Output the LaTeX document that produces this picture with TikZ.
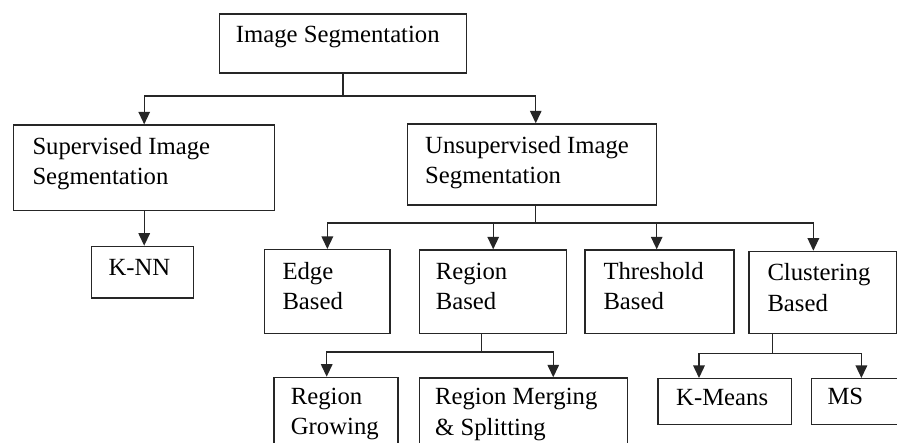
\documentclass[tikz,border=0pt]{standalone}
\usepackage{fontspec}
\setmainfont{Liberation Serif}
\usetikzlibrary{arrows.meta,calc}
\newcommand\boxtext[1]{\begin{tabular}[t]{@{}l@{}}#1\end{tabular}}
\begin{document}
\begin{tikzpicture}[x=1pt,y=-1pt,
  box/.style={draw=black!85, line width=1.4pt, rectangle, inner sep=0pt, anchor=north west},
  lbl/.style={anchor=base west, inner sep=0pt, font=\fontsize{24.7}{30.7}\selectfont},
  ln/.style={draw=black!85, line width=1.4pt},
  arr/.style={draw=black!85, line width=1.4pt, -{Triangle[width=11.5pt,length=12.5pt]}}]
\clip (0,0) rectangle (897,443);
\fill[white] (0,0) rectangle (897,443);
% boxes
\node[box, minimum width=246.7pt, minimum height=59pt] (seg) at (219,13.3) {};
\node[box, minimum width=261pt, minimum height=85.7pt] (sup) at (13,124.3) {};
\node[box, minimum width=249.3pt, minimum height=81pt] (unsup) at (406.7,123.3) {};
\node[box, minimum width=102pt, minimum height=51.6pt] (knn) at (90.7,245.7) {};
\node[box, minimum width=125.3pt, minimum height=83.7pt] (edge) at (264,249) {};
\node[box, minimum width=147pt, minimum height=83.4pt] (region) at (419,249.3) {};
\node[box, minimum width=149pt, minimum height=83.4pt] (thresh) at (584.3,249.3) {};
\node[box, minimum width=147.7pt, minimum height=82pt] (clust) at (748.3,250.7) {};
\node[box, minimum width=124pt, minimum height=80pt] (grow) at (273.3,376.7) {};
\node[box, minimum width=207.7pt, minimum height=80pt] (merge) at (419,377.3) {};
\node[box, minimum width=133.4pt, minimum height=46pt] (kmeans) at (657.3,378) {};
\node[box, minimum width=100pt, minimum height=46pt] (ms) at (810.7,378) {};
% labels
\node[lbl] (tseg) at (235.7,42.7) {Image Segmentation};
\node[lbl] (tsup) at (32.3,154.3) {\boxtext{Supervised Image\\Segmentation}};
\node[lbl] (tunsup) at (425,153.3) {\boxtext{Unsupervised Image\\Segmentation}};
\node[lbl] (tknn) at (108.3,275.7) {K-NN};
\node[lbl] (tedge) at (282.3,279.3) {\boxtext{Edge\\Based}};
\node[lbl] (tregion) at (435.7,279.3) {\boxtext{Region\\Based}};
\node[lbl] (tthresh) at (603.3,279.3) {\boxtext{Threshold\\Based}};
\node[lbl] (tclust) at (767.3,280.7) {\boxtext{Clustering\\Based}};
\node[lbl] (tgrow) at (290.7,404.3) {\boxtext{Region\\Growing}};
\node[lbl] (tmerge) at (435,405) {\boxtext{Region Merging\\\& Splitting}};
\node[lbl] (tkmeans) at (676,406) {K-Means};
\node[lbl] (tms) at (827.3,404.5) {MS};
% connectors
\draw[ln] (seg.south) -- ++(0,22.4) coordinate (j1);
\draw[arr] (j1) -| (sup.north);
\draw[arr] (j1) -| ([xshift=3.7pt]unsup.north);
\draw[arr] (sup.south) -- (sup.south |- knn.north);
\draw[ln] ([xshift=3.7pt]unsup.south) -- ++(0,17.4) coordinate (j2);
\draw[arr] (j2) -| (edge.north);
\draw[arr] (j2) -| (region.north);
\draw[arr] (j2) -| ([xshift=-2.8pt]thresh.north);
\draw[arr] (j2) -| ([xshift=-9.5pt]clust.north);
\draw[ln] ([xshift=-11.8pt]region.south) -- ++(0,18) coordinate (j3);
\draw[arr] (j3) -| ([xshift=-9.3pt]grow.north);
\draw[arr] (j3) -| ([xshift=29.7pt]merge.north);
\draw[ln] ([xshift=-50.3pt]clust.south) -- ++(0,19.6) coordinate (j4);
\draw[arr] (j4) -| ([xshift=-25.7pt]kmeans.north);
\draw[arr] (j4) -| (ms.north);
\end{tikzpicture}
\end{document}
